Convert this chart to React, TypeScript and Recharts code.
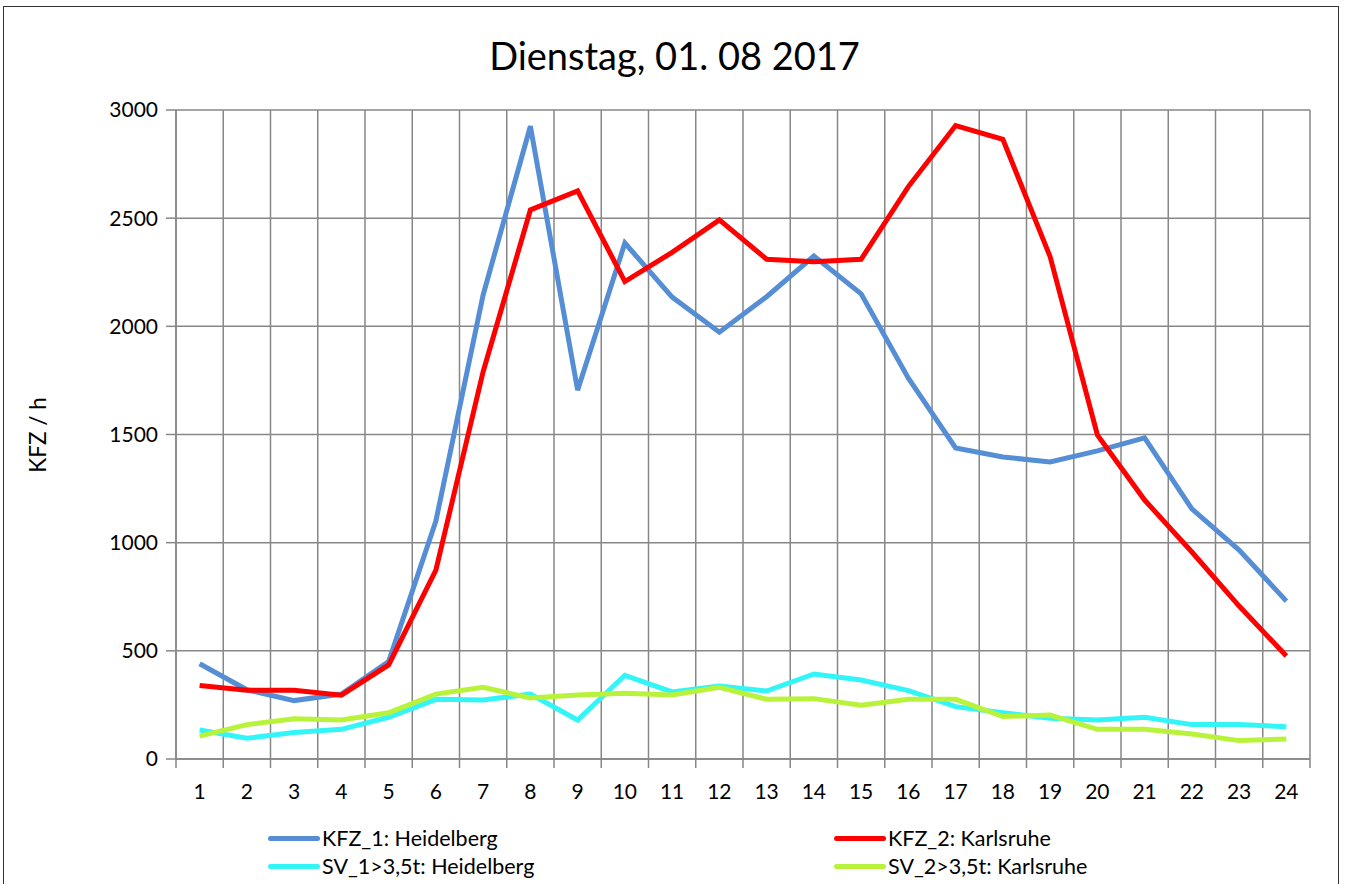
import React from 'react';
import { LineChart, Line, XAxis, YAxis, CartesianGrid } from 'recharts';

const hours = ['1','2','3','4','5','6','7','8','9','10','11','12','13','14','15','16','17','18','19','20','21','22','23','24'];
const kfz1 = [440,320,270,300,450,1100,2145,2925,1705,2385,2135,1973,2137,2325,2150,1760,1438,1396,1373,1424,1484,1156,966,730];
const kfz2 = [340,318,318,295,435,873,1790,2538,2626,2207,2342,2492,2310,2299,2310,2646,2928,2864,2322,1498,1197,957,707,476];
const sv1 = [134,96,122,137,193,276,273,300,180,387,310,337,314,393,365,316,242,214,188,180,193,159,159,149];
const sv2 = [106,159,186,180,214,300,331,282,296,304,296,331,276,279,248,276,276,196,203,137,137,116,85,92];
const yTicks = [0,500,1000,1500,2000,2500,3000];
const boundaryTicks = [0.5,1.5,2.5,3.5,4.5,5.5,6.5,7.5,8.5,9.5,10.5,11.5,12.5,13.5,14.5,15.5,16.5,17.5,18.5,19.5,20.5,21.5,22.5,23.5,24.5];
const centerTicks = [1,2,3,4,5,6,7,8,9,10,11,12,13,14,15,16,17,18,19,20,21,22,23,24];
const X_DOMAIN = [0.5, 24.5];

const series = [
  { key: 'kfz1', name: 'KFZ_1: Heidelberg', color: '#558ED5' },
  { key: 'kfz2', name: 'KFZ_2: Karlsruhe', color: '#FF0000' },
  { key: 'sv1', name: 'SV_1>3,5t: Heidelberg', color: '#33F5F8' },
  { key: 'sv2', name: 'SV_2>3,5t: Karlsruhe', color: '#B8F23A' },
];

const data = hours.map((h, i) => ({
  x: centerTicks[i],
  label: h,
  kfz1: kfz1[i],
  kfz2: kfz2[i],
  sv1: sv1[i],
  sv2: sv2[i],
}));

const FONT = 'Lato, "Open Sans", sans-serif';
const GRID = '#878787';

const emptyTick = () => <g />;

const verticalGen = (props: any) => {
  const xAxis = props && props.xAxis;
  if (xAxis && typeof xAxis.scale === 'function') {
    return boundaryTicks.map((t) => xAxis.scale(t));
  }
  const off = props && props.offset;
  if (off && typeof off.left === 'number' && typeof off.width === 'number') {
    const span = X_DOMAIN[1] - X_DOMAIN[0];
    return boundaryTicks.map((t) => off.left + ((t - X_DOMAIN[0]) / span) * off.width);
  }
  return [];
};

export default function App() {
  return (
    <div style={{ position: 'absolute', left: 0, top: 0, width: 1349, height: 884, background: '#fff', overflow: 'hidden', fontFamily: FONT }}>
      <div style={{ position: 'absolute', left: 3, top: 6, width: 1336, height: 900, border: '1.5px solid #333', boxSizing: 'border-box' }} />
      <div style={{ position: 'absolute', left: 0, top: 28, width: 1349, textAlign: 'center', fontSize: 38, color: '#000', lineHeight: '54px' }}>
        Dienstag, 01. 08 2017
      </div>
      <div style={{ position: 'absolute', left: 37, top: 435, transform: 'translate(-50%, -50%) rotate(-90deg)', fontSize: 22.5, whiteSpace: 'nowrap', color: '#000' }}>
        KFZ / h
      </div>
      <div style={{ position: 'absolute', left: 0, top: 0 }}>
        <LineChart width={1349} height={884} data={data} margin={{ top: 110, right: 39, left: 106, bottom: 95 }}>
          <CartesianGrid
            stroke={GRID}
            strokeWidth={1.5}
            verticalCoordinatesGenerator={verticalGen}
          />
          <XAxis
            xAxisId="grid"
            dataKey="x"
            type="number"
            domain={X_DOMAIN}
            ticks={boundaryTicks}
            tick={emptyTick}
            interval={0}
            height={1}
            tickSize={9}
            axisLine={{ stroke: GRID, strokeWidth: 1.5 }}
            tickLine={{ stroke: GRID, strokeWidth: 1.5 }}
          />
          <XAxis
            xAxisId="lab"
            dataKey="x"
            type="number"
            domain={X_DOMAIN}
            ticks={centerTicks}
            tickFormatter={(v: number) => hours[v - 1]}
            height={29}
            axisLine={false}
            tickLine={false}
            tickSize={0}
            tickMargin={24}
            interval={0}
            tick={{ fontSize: 21, fill: '#000', fontFamily: FONT }}
          />
          <YAxis
            type="number"
            domain={[0, 3000]}
            ticks={yTicks}
            width={70}
            tickSize={10}
            tickMargin={8}
            interval={0}
            axisLine={{ stroke: GRID, strokeWidth: 1.5 }}
            tickLine={{ stroke: GRID, strokeWidth: 1.5 }}
            tick={{ fontSize: 21, fill: '#000', fontFamily: FONT }}
          />
          {series.map((s) => (
            <Line
              key={s.key}
              xAxisId="lab"
              dataKey={s.key}
              name={s.name}
              stroke={s.color}
              strokeWidth={5}
              dot={false}
              activeDot={false}
              strokeLinejoin="miter"
              isAnimationActive={false}
            />
          ))}
        </LineChart>
      </div>
      {series.map((s, i) => {
        const col = i % 2;
        const row = Math.floor(i / 2);
        const left = col === 0 ? 268 : 834;
        const top = row === 0 ? 838 : 866;
        return (
          <div key={s.key} style={{ position: 'absolute', left, top: top - 14, height: 28, display: 'flex', alignItems: 'center', fontSize: 21.5, color: '#000', whiteSpace: 'nowrap' }}>
            <div style={{ width: 52, height: 5, background: s.color, borderRadius: 2.5, marginRight: 2 }} />
            <span>{s.name}</span>
          </div>
        );
      })}
    </div>
  );
}
